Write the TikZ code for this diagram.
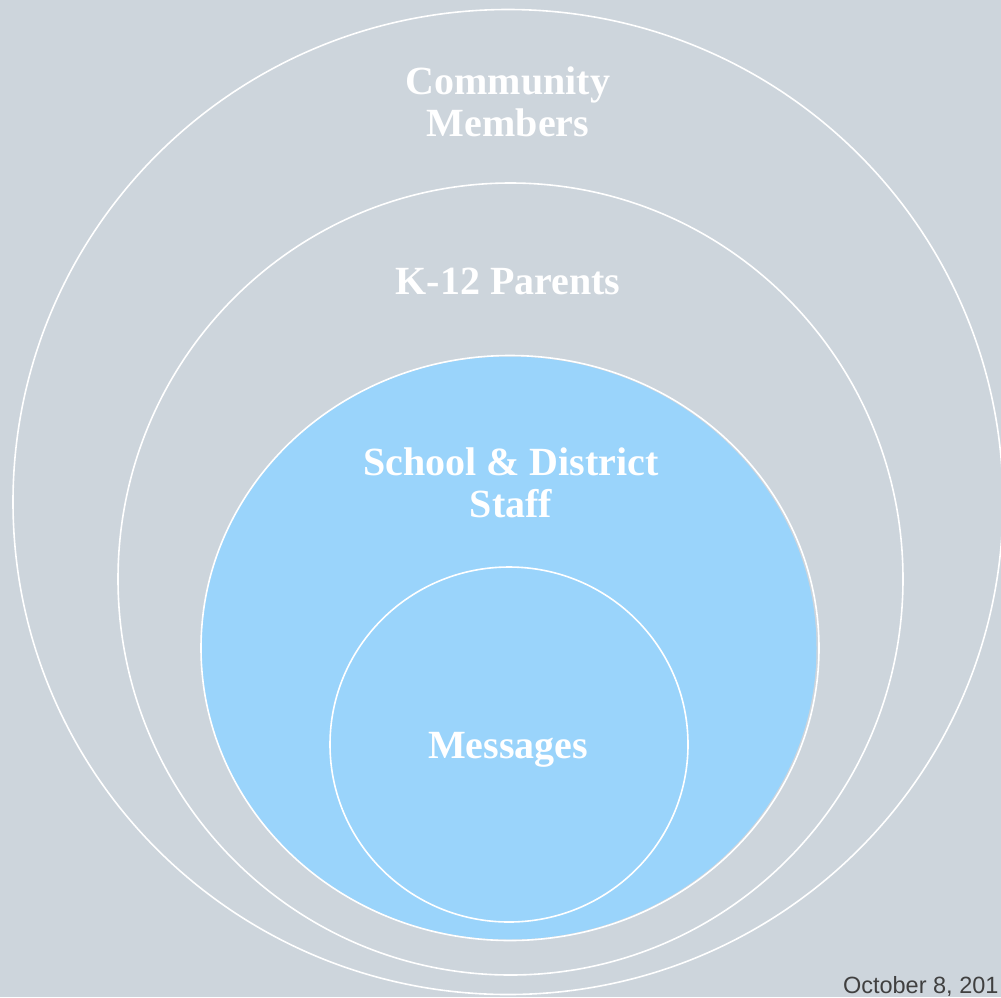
\documentclass[tikz,border=0pt]{standalone}
\usepackage{fontspec}
\setmainfont{Liberation Serif}
\newfontfamily\datefont{Liberation Sans}
\usetikzlibrary{shapes.geometric}

\definecolor{slate}{HTML}{CDD5DC}
\definecolor{skyblue}{HTML}{9AD4FB}
\definecolor{dategray}{HTML}{404040}

\tikzset{
  ring/.style={ellipse, draw=white, line width=1.6pt, inner sep=0pt, outer sep=0pt},
  ringtext/.style={text=white, align=center, font=\bfseries\fontsize{40}{42}\selectfont},
}

\begin{document}
\begin{tikzpicture}[x=1pt, y=-1pt]
  \fill[slate] (0,0) rectangle (1001,997);
  \useasboundingbox (0,0) rectangle (1001,997);

  % the rings, outside in
  \node[ring, minimum width=990pt, minimum height=985pt] (community) at (508,502) {};
  \node[ring, minimum width=785pt, minimum height=792pt] (parents) at (510.5,579) {};
  \node[ellipse, fill=skyblue, inner sep=0pt, minimum width=615pt, minimum height=583pt] (staff) at (509,648) {};
  \node[ring, minimum width=618pt, minimum height=585pt] (staffedge) at (510,648) {};
  \node[ring, minimum width=358pt, minimum height=355pt] (messages) at (509,744.5) {};

  % labels
  \node[ringtext] (communitytext) at (508,102) {Community\\Members};
  \node[ringtext] (parentstext) at (508,281) {K-12 Parents};
  \node[ringtext] (stafftext) at (511,483) {School \& District\\Staff};
  \node[ringtext] (messagestext) at (508,750) {Messages};

  \node[anchor=base east, text=dategray, font=\datefont\fontsize{23.5}{26}\selectfont] (date) at (1002,993) {October 8, 201};
\end{tikzpicture}
\end{document}
